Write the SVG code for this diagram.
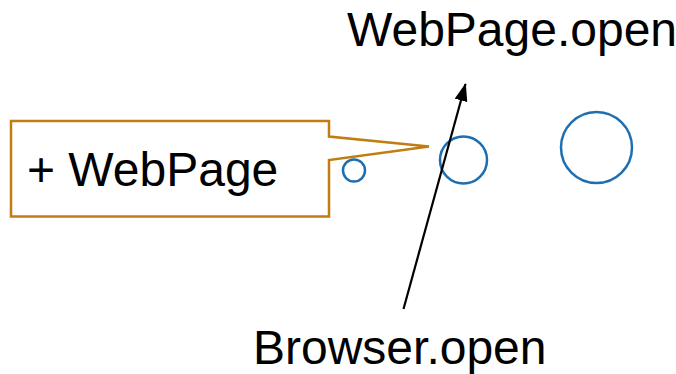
<svg xmlns="http://www.w3.org/2000/svg" width="676" height="374" viewBox="0 0 676 374">
  <defs>
    <style>
      .label { font-family: "Liberation Sans", Arial, sans-serif; font-size: 48px; fill: #000; }
      .port { fill: none; stroke: #1f6fb0; stroke-width: 2.5; }
      .callout { fill: #fff; stroke: #c07d14; stroke-width: 2.5; }
      .edge { stroke: #000; stroke-width: 2.2; fill: none; }
    </style>
    <marker id="arrow" viewBox="0 0 18 13" refX="17" refY="6.5" markerWidth="18" markerHeight="13" markerUnits="userSpaceOnUse" orient="auto">
      <path d="M0,0 L18,6.5 L0,13 z" fill="#000"/>
    </marker>
  </defs>
  <rect width="676" height="374" fill="#fff"/>

  <g id="callout-webpage">
    <path class="callout" d="M11,121 H329 V136.5 L429,146.5 L329,160 V216.5 H11 Z"/>
    <text class="label" x="27" y="186">+ WebPage</text>
  </g>

  <g id="port-small">
    <circle class="port" cx="354" cy="170.5" r="11"/>
  </g>

  <g id="port-middle">
    <circle class="port" cx="463.5" cy="160" r="23.5"/>
  </g>

  <g id="port-large">
    <circle class="port" cx="596.5" cy="147.5" r="35.5"/>
  </g>

  <g id="connectors">
    <line class="edge" x1="403.5" y1="309" x2="465.5" y2="84" marker-end="url(#arrow)"/>
  </g>

  <g id="label-webpage-open">
    <text class="label" x="347" y="46">WebPage.open</text>
  </g>

  <g id="label-browser-open">
    <text class="label" x="253" y="364">Browser.open</text>
  </g>
</svg>
